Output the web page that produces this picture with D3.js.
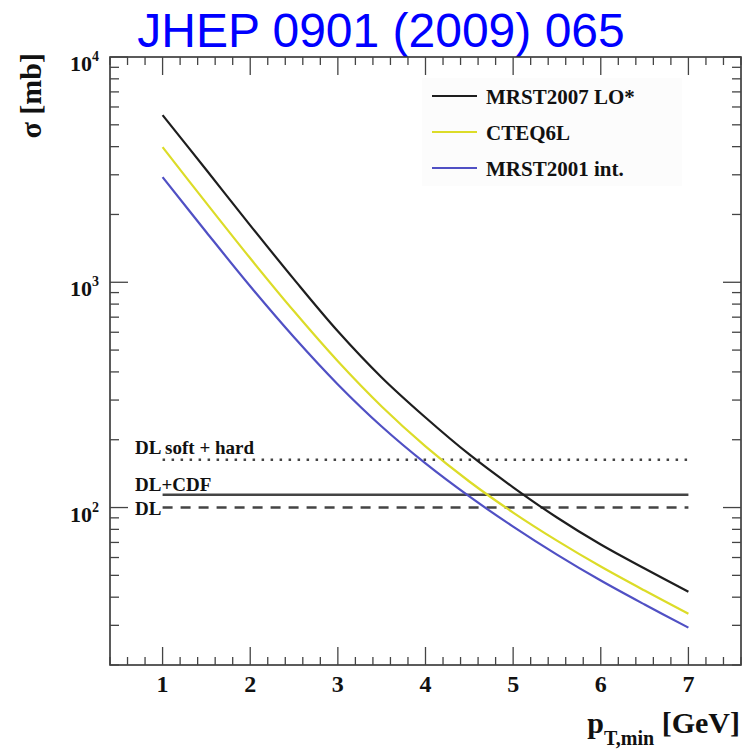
<!DOCTYPE html>
<html>
<head>
<meta charset="utf-8">
<script src="https://cdn.jsdelivr.net/npm/d3@7"></script>
<style>
  html, body { margin: 0; padding: 0; background: #fff; }
  svg { display: block; }
  .serif { font-family: "Liberation Serif", "DejaVu Serif", serif; font-weight: bold; fill: #111; }
</style>
</head>
<body>
<div id="chart"></div>
<script>
// ---- data ----
const ptValues = [1, 1.5, 2, 2.5, 3, 3.5, 4, 4.5, 5, 5.5, 6, 6.5, 7];
const mrst2007LO = [5520, 3150, 1790, 1030, 606, 378, 251, 172, 123, 90.3, 68.5, 53.6, 42.3];
const cteq6L     = [3980, 2245, 1278, 743, 446, 281, 187, 130.5, 95, 71.3, 54.7, 42.8, 33.8];
const mrst2001   = [2930, 1668, 960, 570, 352, 229, 157, 112, 82.3, 61.8, 47.4, 37.1, 29.3];
const seriesNames = ["MRST2007 LO*", "CTEQ6L", "MRST2001 int."];
const seriesColors = ["#1e1e1e", "#dcdc28", "#5050c4"];

const refNames = ["DL soft + hard", "DL+CDF", "DL"];
const refValues = [163, 114, 100];
const refDash = ["2.5,6.5", null, "10,8"];
const refRange = [1, 7];

const xTickValues = [1, 2, 3, 4, 5, 6, 7];
const yTickExponents = [2, 3, 4];

// ---- layout ----
const W = 753, H = 755;
const L = 110, R = 741, T = 57, B = 665;

const svg = d3.select("#chart").append("svg").attr("width", W).attr("height", H);

const x = d3.scaleLinear().domain([0.4, 7.6]).range([L, R]);
const y = d3.scaleLog().domain([20, 10000]).range([B, T]);

// title
svg.append("text")
  .attr("x", 381).attr("y", 47)
  .attr("text-anchor", "middle")
  .style("font-family", "'Liberation Sans', Arial, sans-serif")
  .style("font-size", "48px")
  .style("fill", "#0000ff")
  .text("JHEP 0901 (2009) 065");

// frame
svg.append("rect").attr("x", L).attr("y", T).attr("width", R - L).attr("height", B - T)
  .attr("fill", "none").attr("stroke", "#333").attr("stroke-width", 1.6);

// ticks: x
const xMinor = d3.range(0.4, 7.61, 0.2).map(v => Math.round(v * 10) / 10);
const tickG = svg.append("g").attr("stroke", "#444").attr("stroke-width", 1.3);
xMinor.forEach(v => {
  const isMajor = Math.abs(v - Math.round(v)) < 1e-6;
  const len = isMajor ? 18 : 8;
  tickG.append("line").attr("x1", x(v)).attr("x2", x(v)).attr("y1", B).attr("y2", B - len);
  tickG.append("line").attr("x1", x(v)).attr("x2", x(v)).attr("y1", T).attr("y2", T + len);
});
// ticks: y
const yMinorList = [];
[1, 2, 3].forEach(e => { for (let m = 1; m <= 9; m++) { const v = m * Math.pow(10, e); if (v >= 20 && v <= 10000) yMinorList.push(v); } });
yMinorList.push(10000);
yMinorList.forEach(v => {
  const isMajor = Math.abs(Math.log10(v) - Math.round(Math.log10(v))) < 1e-9;
  const len = isMajor ? 18 : 9;
  tickG.append("line").attr("x1", L).attr("x2", L + len).attr("y1", y(v)).attr("y2", y(v));
  tickG.append("line").attr("x1", R).attr("x2", R - len).attr("y1", y(v)).attr("y2", y(v));
});

// x tick labels
svg.append("g").selectAll("text").data(xTickValues).join("text")
  .attr("class", "serif")
  .attr("x", d => x(d)).attr("y", 692)
  .attr("text-anchor", "middle")
  .style("font-size", "24px")
  .text(d => d);

// y tick labels
const yl = svg.append("g").selectAll("text").data(yTickExponents).join("text")
  .attr("class", "serif")
  .attr("x", 70).attr("y", d => y(Math.pow(10, d)) + 14)
  .style("font-size", "22px");
yl.append("tspan").text("10");
yl.append("tspan").attr("dy", -10).style("font-size", "14px").text(d => d);

// axis titles
const xt = svg.append("text").attr("class", "serif")
  .attr("x", 740).attr("y", 733).attr("text-anchor", "end")
  .style("font-size", "30px");
xt.append("tspan").text("p");
xt.append("tspan").attr("dy", 12).style("font-size", "20px").text("T,min");
xt.append("tspan").attr("dy", -12).text(" [GeV]");

svg.append("text").attr("class", "serif")
  .attr("transform", "translate(41,53) rotate(-90)")
  .attr("text-anchor", "end")
  .style("font-size", "30px")
  .text("σ [mb]");

// reference horizontal lines
refValues.forEach((v, i) => {
  const ln = svg.append("line")
    .attr("x1", x(refRange[0])).attr("x2", x(refRange[1]))
    .attr("y1", y(v)).attr("y2", y(v))
    .attr("stroke", "#444").attr("stroke-width", i === 1 ? 2.6 : 2.4);
  if (refDash[i]) ln.attr("stroke-dasharray", refDash[i]);
});
const refLabelY = [454, 491, 515];
svg.append("g").selectAll("text").data(refNames).join("text")
  .attr("class", "serif")
  .attr("x", 135).attr("y", (d, i) => refLabelY[i])
  .style("font-size", "19px")
  .text(d => d);

// curves
const allSeries = [mrst2007LO, cteq6L, mrst2001];
const line = d3.line().x(d => x(d[0])).y(d => y(d[1])).curve(d3.curveCatmullRom.alpha(0.5));
allSeries.forEach((s, i) => {
  svg.append("path")
    .datum(ptValues.map((p, j) => [p, s[j]]))
    .attr("d", line)
    .attr("fill", "none")
    .attr("stroke", seriesColors[i])
    .attr("stroke-width", 2.2);
});

// legend
const lg = svg.append("g");
lg.append("rect").attr("x", 422).attr("y", 78).attr("width", 260).attr("height", 108)
  .attr("fill", "#fcfcfc");
const legY = [96, 132, 168];
seriesNames.forEach((n, i) => {
  lg.append("line").attr("x1", 432).attr("x2", 477).attr("y1", legY[i]).attr("y2", legY[i])
    .attr("stroke", seriesColors[i]).attr("stroke-width", 2.2);
  lg.append("text").attr("class", "serif")
    .attr("x", 486).attr("y", legY[i] + 8)
    .style("font-size", "21px")
    .text(n);
});
</script>
</body>
</html>
